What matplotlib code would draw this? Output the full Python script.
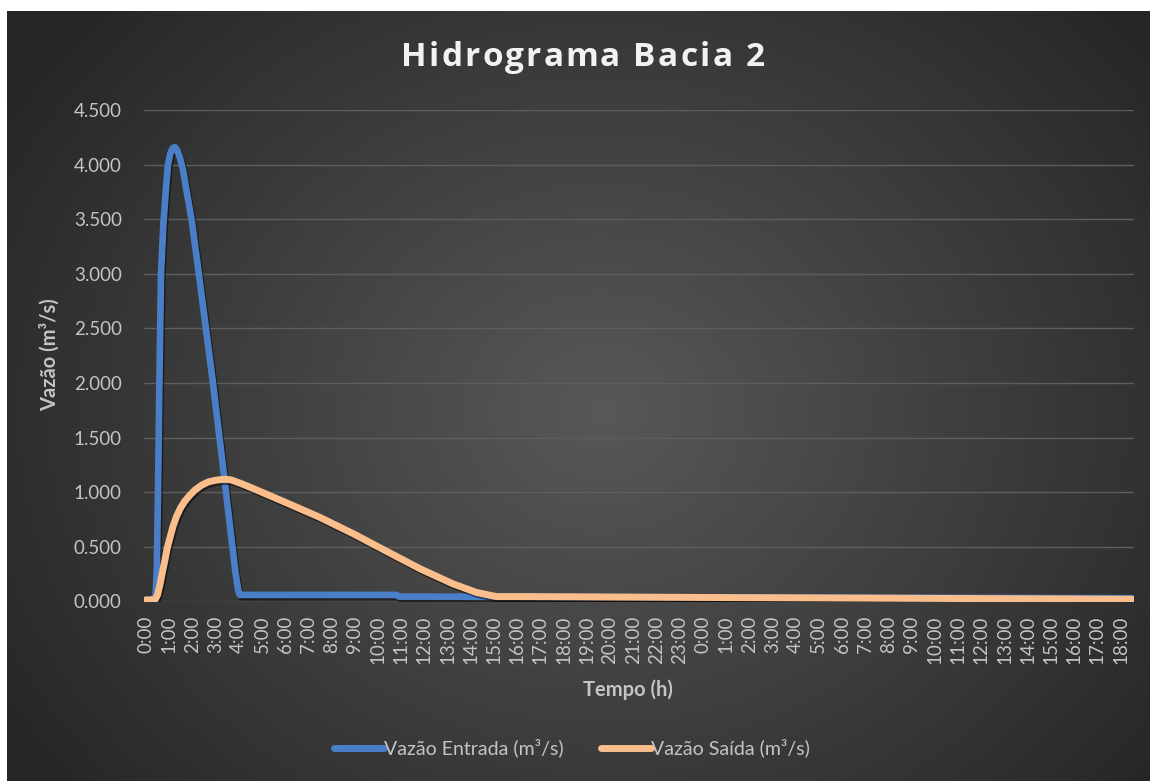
import numpy as np
import matplotlib
matplotlib.use("Agg")
import matplotlib.pyplot as plt
import matplotlib.patheffects as pe
from matplotlib.font_manager import FontProperties
from matplotlib.textpath import TextToPath

# ---------------- data (hours from start, m3/s) ----------------
t_in = [0.0, 0.33, 0.42, 0.47, 0.52, 0.58, 0.65, 0.75, 0.87, 0.95, 1.05, 1.15, 1.25,
        1.35, 1.47, 1.60, 1.80, 1.98, 2.28, 2.89, 3.45, 3.70, 3.85, 3.98, 4.05,
        10.8, 10.9, 20.0, 30.0, 42.5]
q_in = [0.00, 0.02, 0.06, 0.30, 1.00, 2.00, 3.00, 3.45, 3.80, 4.00, 4.10, 4.15, 4.16,
        4.13, 4.06, 3.95, 3.70, 3.48, 3.00, 2.00, 1.00, 0.55, 0.28, 0.10, 0.06,
        0.06, 0.045, 0.04, 0.035, 0.03]

t_out = [0.0, 0.39, 0.50, 0.60, 0.71, 0.82, 0.92, 1.03, 1.17, 1.32, 1.50, 1.68, 1.90,
         2.11, 2.40, 2.69, 3.00, 3.30, 3.50, 3.69, 4.10, 4.56, 5.99, 7.50, 8.94,
         10.37, 11.81, 13.25, 14.25, 15.10, 16.10, 18.3, 25.0, 32.0, 38.6, 42.5]
q_out = [0.015, 0.015, 0.06, 0.15, 0.27, 0.38, 0.49, 0.58, 0.69, 0.78, 0.86, 0.92, 0.975,
         1.02, 1.065, 1.095, 1.11, 1.118, 1.118, 1.112, 1.08, 1.04, 0.91, 0.77, 0.62,
         0.46, 0.30, 0.16, 0.083, 0.045, 0.045, 0.043, 0.036, 0.030, 0.024, 0.020]

tick_hours = list(range(0, 43))
tick_labels = [f"{h % 24}:00" for h in tick_hours]
y_ticks = [0.0, 0.5, 1.0, 1.5, 2.0, 2.5, 3.0, 3.5, 4.0, 4.5]
y_labels = ["0.000", "0.500", "1.000", "1.500", "2.000", "2.500", "3.000", "3.500", "4.000", "4.500"]

title = "Hidrograma Bacia 2"
xlabel = "Tempo (h)"
ylabel = "Vazão (m³/s)"
name_in = "Vazão Entrada (m³/s)"
name_out = "Vazão Saída (m³/s)"

# ---------------- figure ----------------
W, H = 1150, 781
fig = plt.figure(figsize=(W / 100, H / 100), dpi=100, facecolor="white")
plt.rcParams['font.family'] = ['Lato', 'DejaVu Sans']
TXT = "#C4C4C4"

# radial gradient background
bg = fig.add_axes([7 / W, 0, 1 - 7 / W, 1 - 11 / H])
bg.set_axis_off()
ny, nx = 400, 600
yy, xx = np.mgrid[0:ny, 0:nx]
cx, cy = nx * 0.52, ny * 0.52
r = np.sqrt(((xx - cx) / (nx * 0.62)) ** 2 + ((yy - cy) / (ny * 0.78)) ** 2)
r = np.clip(r, 0, 1)
inner = np.array([0x58, 0x58, 0x58]) / 255
outer = np.array([0x26, 0x26, 0x26]) / 255
img = inner[None, None, :] * (1 - r[..., None]) + outer[None, None, :] * r[..., None]
bg.imshow(img, aspect="auto", extent=[0, 1, 0, 1], interpolation="bilinear")
bg.set_xlim(0, 1)
bg.set_ylim(0, 1)

ax = fig.add_axes([144 / W, 1 - 601.5 / H, (1134 - 144) / W, (601.5 - 110) / H])
ax.set_facecolor("none")
for s in ax.spines.values():
    s.set_visible(False)

shadow = [pe.SimpleLineShadow(offset=(1, -1.5), shadow_color="black", alpha=0.5), pe.Normal()]
l1, = ax.plot(t_in, q_in, color="#4A7EC6", lw=4.8, solid_capstyle="round",
              solid_joinstyle="round", label=name_in, path_effects=shadow, zorder=3)
l2, = ax.plot(t_out, q_out, color="#F9BE8B", lw=5.0, solid_capstyle="round",
              solid_joinstyle="round", label=name_out, path_effects=shadow, zorder=4)

ax.set_xlim(-1 / 12, 42.5 + 1 / 12)
ax.set_ylim(0, 4.5)
ax.set_yticks(y_ticks)
ax.set_yticklabels(y_labels)
ax.set_xticks(tick_hours)
ax.set_xticklabels(tick_labels, rotation=90)
ax.tick_params(axis="both", length=0, colors=TXT, labelsize=13.5)
ax.tick_params(axis="x", pad=10)
ax.tick_params(axis="y", pad=16)
ax.grid(axis="y", color="#5E5E5E", lw=1.0)
ax.set_axisbelow(True)

# letter-spaced title
fp = FontProperties(family=["Open Sans", "DejaVu Sans"], weight="bold", size=24)
t2p = TextToPath()
def width_px(s):
    w, h, d = t2p.get_text_width_height_descent(s + "H", fp, ismath=False)
    w0, _, _ = t2p.get_text_width_height_descent("H", fp, ismath=False)
    return (w - w0) * 100 / 72
spacing = 2.3
adv = [width_px(title[:i]) + i * spacing for i in range(len(title) + 1)]
total = width_px(title) + (len(title) - 1) * spacing
x0 = 583 - total / 2
for i, ch in enumerate(title):
    if ch == " ":
        continue
    fig.text((x0 + adv[i]) / W, 1 - 58 / H, ch, ha="left", va="center", color="#F2F2F2",
             fontproperties=fp)

fig.text(628 / W, 1 - 690 / H, xlabel, ha="center", va="center", color=TXT,
         fontsize=14.5, fontweight="bold")
fig.text(50 / W, 1 - 355 / H, ylabel, ha="center", va="center", color=TXT,
         fontsize=14.5, fontweight="bold", rotation=90)

leg = fig.legend(handles=[l1, l2], loc="center", bbox_to_anchor=(572 / W, 1 - 748 / H),
                 ncol=2, frameon=False, fontsize=14, handlelength=2.6,
                 handletextpad=0.0, columnspacing=1.9, labelcolor=TXT)
for h in leg.legend_handles:
    h.set_path_effects([])
    h.set_linewidth(5)

fig.savefig("out.png", dpi=100, facecolor=fig.get_facecolor())
